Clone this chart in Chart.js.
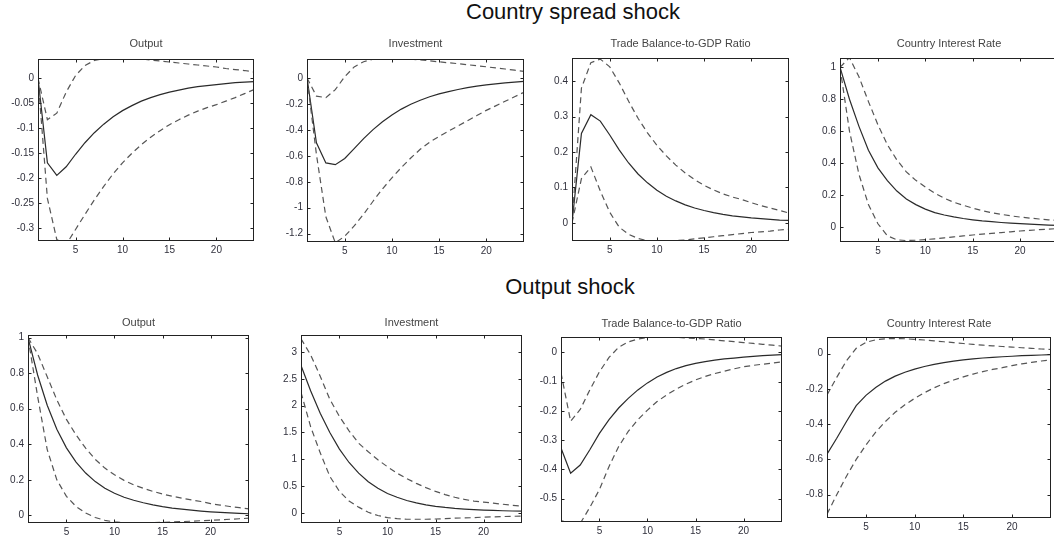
<!DOCTYPE html>
<html>
<head>
<meta charset="utf-8">
<script src="https://cdn.jsdelivr.net/npm/chart.js@4.4.1/dist/chart.umd.min.js"></script>
<style>
  html, body { margin: 0; padding: 0; background: #fff; overflow: hidden; }
  body { width: 1054px; height: 545px; position: relative; font-family: "Liberation Sans", Arial, sans-serif; }
  .heading { position: absolute; transform: translateX(-50%); font-size: 22px; line-height: 24px; color: #111; white-space: nowrap; }
  .panel { position: absolute; }
</style>
</head>
<body>
<div class="heading" style="left:573px; top:0px;">Country spread shock</div>
<div class="heading" style="left:570px; top:275px;">Output shock</div>

<script>
// quarters after the shock
const horizon = [1, 2, 3, 4, 5, 6, 7, 8, 9, 10, 11, 12, 13, 14, 15, 16, 17, 18, 19, 20, 21, 22, 23, 24];
const xTicks = [5, 10, 15, 20];

// country spread shock: median response and error bands
const spreadOutput   = [0, -0.169, -0.194, -0.177, -0.152, -0.129, -0.109, -0.092, -0.077, -0.065, -0.055, -0.046, -0.039, -0.033, -0.028, -0.024, -0.020, -0.017, -0.015, -0.013, -0.011, -0.009, -0.008, -0.007];
const spreadOutputHi = [0, -0.083, -0.070, -0.028, 0.005, 0.025, 0.035, 0.039, 0.040, 0.040, 0.039, 0.038, 0.036, 0.034, 0.032, 0.030, 0.028, 0.026, 0.024, 0.022, 0.019, 0.017, 0.015, 0.012];
const spreadOutputLo = [0, -0.240, -0.322, -0.332, -0.302, -0.272, -0.243, -0.216, -0.191, -0.169, -0.150, -0.133, -0.118, -0.105, -0.093, -0.083, -0.074, -0.066, -0.059, -0.053, -0.046, -0.039, -0.031, -0.023];

const spreadInv   = [0, -0.50, -0.655, -0.668, -0.62, -0.545, -0.468, -0.398, -0.337, -0.285, -0.240, -0.203, -0.172, -0.145, -0.123, -0.105, -0.089, -0.075, -0.063, -0.053, -0.045, -0.038, -0.032, -0.027];
const spreadInvHi = [0, -0.14, -0.152, -0.09, 0.01, 0.085, 0.125, 0.145, 0.152, 0.153, 0.150, 0.145, 0.139, 0.132, 0.124, 0.117, 0.110, 0.102, 0.094, 0.086, 0.077, 0.069, 0.060, 0.051];
const spreadInvLo = [0, -0.59, -1.07, -1.27, -1.22, -1.14, -1.05, -0.95, -0.855, -0.77, -0.69, -0.617, -0.55, -0.495, -0.45, -0.41, -0.37, -0.33, -0.29, -0.25, -0.215, -0.18, -0.145, -0.11];

const spreadTb   = [0, 0.252, 0.305, 0.287, 0.248, 0.206, 0.169, 0.138, 0.113, 0.092, 0.075, 0.062, 0.051, 0.042, 0.035, 0.029, 0.024, 0.020, 0.017, 0.014, 0.012, 0.010, 0.008, 0.007];
const spreadTbHi = [0, 0.38, 0.452, 0.462, 0.44, 0.395, 0.343, 0.295, 0.254, 0.219, 0.189, 0.163, 0.141, 0.122, 0.106, 0.093, 0.082, 0.073, 0.066, 0.057, 0.049, 0.042, 0.035, 0.028];
const spreadTbLo = [0, 0.125, 0.158, 0.09, 0.03, -0.012, -0.032, -0.044, -0.050, -0.052, -0.052, -0.050, -0.048, -0.045, -0.042, -0.039, -0.036, -0.033, -0.030, -0.027, -0.025, -0.023, -0.020, -0.018];

const spreadRate   = [1.0, 0.80, 0.63, 0.48, 0.37, 0.29, 0.225, 0.175, 0.14, 0.112, 0.09, 0.075, 0.063, 0.053, 0.045, 0.038, 0.033, 0.028, 0.024, 0.021, 0.018, 0.015, 0.012, 0.010];
const spreadRateHi = [1.0, 1.06, 0.94, 0.785, 0.64, 0.515, 0.42, 0.345, 0.292, 0.25, 0.212, 0.18, 0.155, 0.136, 0.118, 0.102, 0.090, 0.079, 0.070, 0.062, 0.056, 0.050, 0.045, 0.041];
const spreadRateLo = [1.0, 0.60, 0.33, 0.14, 0.02, -0.055, -0.08, -0.085, -0.083, -0.079, -0.074, -0.068, -0.062, -0.056, -0.050, -0.045, -0.040, -0.035, -0.030, -0.025, -0.021, -0.017, -0.013, -0.010];

// output shock: median response and error bands
const outOutput   = [1.0, 0.79, 0.62, 0.485, 0.38, 0.30, 0.238, 0.19, 0.153, 0.124, 0.102, 0.085, 0.071, 0.059, 0.049, 0.041, 0.035, 0.029, 0.024, 0.020, 0.017, 0.014, 0.011, 0.009];
const outOutputHi = [1.0, 0.91, 0.78, 0.65, 0.54, 0.453, 0.378, 0.315, 0.266, 0.228, 0.197, 0.172, 0.152, 0.135, 0.120, 0.108, 0.097, 0.087, 0.078, 0.066, 0.058, 0.050, 0.043, 0.037];
const outOutputLo = [1.0, 0.67, 0.37, 0.20, 0.107, 0.05, 0.013, -0.012, -0.028, -0.037, -0.041, -0.042, -0.042, -0.041, -0.039, -0.037, -0.035, -0.033, -0.030, -0.028, -0.025, -0.022, -0.019, -0.016];

const outInv   = [2.75, 2.28, 1.86, 1.50, 1.19, 0.94, 0.74, 0.58, 0.46, 0.36, 0.29, 0.23, 0.185, 0.15, 0.122, 0.10, 0.083, 0.07, 0.06, 0.052, 0.045, 0.039, 0.034, 0.030];
const outInvHi = [3.25, 2.95, 2.55, 2.12, 1.80, 1.53, 1.30, 1.14, 0.99, 0.86, 0.74, 0.64, 0.55, 0.47, 0.40, 0.34, 0.29, 0.25, 0.22, 0.20, 0.18, 0.16, 0.14, 0.125];
const outInvLo = [2.25, 1.61, 1.12, 0.68, 0.40, 0.22, 0.106, 0.01, -0.05, -0.09, -0.11, -0.12, -0.12, -0.12, -0.115, -0.11, -0.10, -0.095, -0.09, -0.08, -0.075, -0.07, -0.065, -0.06];

const outTb   = [-0.327, -0.413, -0.385, -0.333, -0.277, -0.23, -0.19, -0.157, -0.128, -0.104, -0.084, -0.068, -0.055, -0.045, -0.037, -0.031, -0.026, -0.022, -0.019, -0.016, -0.013, -0.011, -0.009, -0.007];
const outTbHi = [-0.07, -0.235, -0.195, -0.128, -0.066, -0.017, 0.018, 0.036, 0.046, 0.051, 0.053, 0.053, 0.052, 0.050, 0.048, 0.046, 0.043, 0.040, 0.037, 0.034, 0.031, 0.028, 0.025, 0.022];
const outTbLo = [-0.575, -0.585, -0.585, -0.53, -0.469, -0.39, -0.322, -0.27, -0.23, -0.197, -0.168, -0.145, -0.125, -0.108, -0.094, -0.082, -0.072, -0.064, -0.056, -0.049, -0.044, -0.040, -0.036, -0.032];

const outRate   = [-0.57, -0.48, -0.385, -0.295, -0.237, -0.192, -0.156, -0.128, -0.106, -0.088, -0.073, -0.061, -0.051, -0.043, -0.036, -0.030, -0.025, -0.021, -0.018, -0.015, -0.012, -0.010, -0.008, -0.006];
const outRateHi = [-0.235, -0.135, -0.04, 0.03, 0.064, 0.078, 0.084, 0.085, 0.084, 0.081, 0.077, 0.072, 0.067, 0.062, 0.057, 0.052, 0.048, 0.044, 0.040, 0.037, 0.033, 0.030, 0.026, 0.023];
const outRateLo = [-0.91, -0.80, -0.695, -0.60, -0.518, -0.445, -0.385, -0.333, -0.29, -0.254, -0.222, -0.194, -0.170, -0.150, -0.132, -0.116, -0.102, -0.090, -0.080, -0.068, -0.058, -0.050, -0.042, -0.035];

// y tick labels per panel
const ticksOutputSpread = [-0.3, -0.25, -0.2, -0.15, -0.1, -0.05, 0];
const ticksInvSpread    = [-1.2, -1, -0.8, -0.6, -0.4, -0.2, 0];
const ticksTbSpread     = [0, 0.1, 0.2, 0.3, 0.4];
const ticksRateSpread   = [0, 0.2, 0.4, 0.6, 0.8, 1];
const ticksOutputOut    = [0, 0.2, 0.4, 0.6, 0.8, 1];
const ticksInvOut       = [0, 0.5, 1, 1.5, 2, 2.5, 3];
const ticksTbOut        = [-0.5, -0.4, -0.3, -0.2, -0.1, 0];
const ticksRateOut      = [-0.8, -0.6, -0.4, -0.2, 0];

// panel layout: plot box [left, top, right, bottom] in page pixels, y range
const panels = [
  { title: "Output", box: [38, 59, 254, 241], yMin: -0.325, yMax: 0.038, ticks: ticksOutputSpread, mid: spreadOutput, hi: spreadOutputHi, lo: spreadOutputLo, gap: 15 },
  { title: "Investment", box: [307, 59, 524, 242], yMin: -1.264, yMax: 0.146, ticks: ticksInvSpread, mid: spreadInv, hi: spreadInvHi, lo: spreadInvLo, gap: 15 },
  { title: "Trade Balance-to-GDP Ratio", box: [572, 58, 789, 241], yMin: -0.051, yMax: 0.465, ticks: ticksTbSpread, mid: spreadTb, hi: spreadTbHi, lo: spreadTbLo, gap: 14 },
  { title: "Country Interest Rate", box: [840, 58, 1058, 242], yMin: -0.094, yMax: 1.058, ticks: ticksRateSpread, mid: spreadRate, hi: spreadRateHi, lo: spreadRateLo, gap: 14 },
  { title: "Output", box: [28, 335, 249, 523], yMin: -0.043, yMax: 1.015, ticks: ticksOutputOut, mid: outOutput, hi: outOutputHi, lo: outOutputLo, gap: 12 },
  { title: "Investment", box: [301, 335, 522, 523], yMin: -0.19, yMax: 3.32, ticks: ticksInvOut, mid: outInv, hi: outInvHi, lo: outInvLo, gap: 12 },
  { title: "Trade Balance-to-GDP Ratio", box: [561, 337, 782, 522], yMin: -0.58, yMax: 0.053, ticks: ticksTbOut, mid: outTb, hi: outTbHi, lo: outTbLo, gap: 13 },
  { title: "Country Interest Rate", box: [827, 337, 1051, 518], yMin: -0.932, yMax: 0.094, ticks: ticksRateOut, mid: outRate, hi: outRateHi, lo: outRateLo, gap: 13 }
];

const labelFont = { family: "Liberation Sans, Arial, sans-serif", size: 10 };
const labelColor = "#30303c";

const toPoints = (vals) => horizon.map((h, i) => ({ x: h, y: vals[i] }));

// boxed axes with inward tick marks on all four sides, plus the panel title
const framePlugin = {
  id: "frame",
  afterDraw(chart, args, opts) {
    const { ctx, chartArea: a, scales } = chart;
    const len = 3.5;
    ctx.save();
    ctx.strokeStyle = "#222";
    ctx.lineWidth = 1;
    ctx.strokeRect(a.left + 0.5, a.top + 0.5, a.right - a.left - 1, a.bottom - a.top - 1);
    ctx.beginPath();
    scales.x.ticks.forEach((t) => {
      const px = Math.round(scales.x.getPixelForValue(t.value)) + 0.5;
      ctx.moveTo(px, a.bottom); ctx.lineTo(px, a.bottom - len);
      ctx.moveTo(px, a.top); ctx.lineTo(px, a.top + len);
    });
    scales.y.ticks.forEach((t) => {
      const py = Math.round(scales.y.getPixelForValue(t.value)) + 0.5;
      ctx.moveTo(a.left, py); ctx.lineTo(a.left + len, py);
      ctx.moveTo(a.right, py); ctx.lineTo(a.right - len, py);
    });
    ctx.stroke();
    ctx.fillStyle = "#444";
    ctx.font = "11px 'Liberation Sans', Arial, sans-serif";
    ctx.textAlign = "center";
    ctx.textBaseline = "middle";
    ctx.fillText(opts.title, (a.left + a.right) / 2, a.top - opts.gap);
    ctx.restore();
  }
};

const padL = 44, padT = 26, padR = 6, padB = 22;

panels.forEach((p) => {
  const [l, t, r, b] = p.box;
  const w = r - l + padL + padR;
  const h = b - t + padT + padB;
  const wrap = document.createElement("div");
  wrap.className = "panel";
  wrap.style.left = (l - padL) + "px";
  wrap.style.top = (t - padT) + "px";
  const canvas = document.createElement("canvas");
  canvas.width = w;
  canvas.height = h;
  wrap.appendChild(canvas);
  document.body.appendChild(wrap);

  new Chart(canvas, {
    type: "line",
    data: {
      datasets: [
        { data: toPoints(p.hi), borderColor: "#555", borderWidth: 1.2, borderDash: [6, 4] },
        { data: toPoints(p.lo), borderColor: "#555", borderWidth: 1.2, borderDash: [6, 4] },
        { data: toPoints(p.mid), borderColor: "#2a2a2a", borderWidth: 1.2 }
      ]
    },
    options: {
      responsive: false,
      animation: false,
      layout: { padding: { left: 0, top: padT, right: padR, bottom: 0 } },
      elements: { point: { radius: 0 }, line: { tension: 0, fill: false } },
      plugins: {
        legend: { display: false },
        tooltip: { enabled: false },
        frame: { title: p.title, gap: p.gap }
      },
      scales: {
        x: {
          type: "linear",
          min: 1,
          max: 24,
          grid: { display: false, drawTicks: false },
          border: { display: false },
          afterBuildTicks: (s) => { s.ticks = xTicks.map((v) => ({ value: v })); },
          afterFit: (s) => { s.height = padB; },
          ticks: { font: labelFont, color: labelColor, padding: 3, maxRotation: 0, autoSkip: false }
        },
        y: {
          type: "linear",
          min: p.yMin,
          max: p.yMax,
          grid: { display: false, drawTicks: false },
          border: { display: false },
          afterBuildTicks: (s) => { s.ticks = p.ticks.map((v) => ({ value: v })); },
          afterFit: (s) => { s.width = padL; },
          ticks: { font: labelFont, color: labelColor, padding: 4, autoSkip: false, callback: (v) => String(v) }
        }
      }
    },
    plugins: [framePlugin]
  });
});
</script>
</body>
</html>
